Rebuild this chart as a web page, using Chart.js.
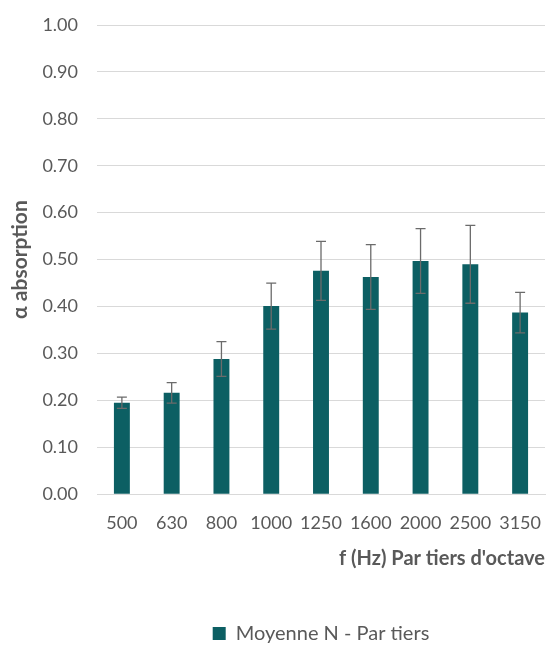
<!DOCTYPE html>
<html lang="fr">
<head>
    <meta charset="UTF-8">
    <title>Absorption - Par tiers d'octave</title>
    <script src="https://cdn.jsdelivr.net/npm/chart.js"></script>
    <style>
        html, body {
            margin: 0;
            padding: 0;
            background: #ffffff;
        }
        #wrap {
            width: 548px;
            height: 645px;
        }
    </style>
</head>
<body>
    <div id="wrap"><canvas id="absChart"></canvas></div>

    <script>
        // Bandes de tiers d'octave (Hz)
        const frequencies = ['500', '630', '800', '1000', '1250', '1600', '2000', '2500', '3150'];
        // Moyenne N - coefficient d'absorption
        const moyenne = [0.195, 0.216, 0.288, 0.401, 0.476, 0.463, 0.497, 0.490, 0.387];
        // Ecart (barres d'erreur +/-)
        const ecart = [0.012, 0.022, 0.037, 0.049, 0.063, 0.069, 0.069, 0.083, 0.043];

        const tealColor = '#0c5f63';
        const greyText = '#595959';

        // barres d'erreur dessinees avec l'echelle y du graphique
        const errorBars = {
            id: 'errorBars',
            afterDatasetsDraw(chart) {
                const meta = chart.getDatasetMeta(0);
                const yScale = chart.scales.y;
                const c = chart.ctx;
                c.save();
                c.strokeStyle = '#6b6b6b';
                c.lineWidth = 1.3;
                meta.data.forEach((bar, i) => {
                    const yTop = yScale.getPixelForValue(moyenne[i] + ecart[i]);
                    const yBot = yScale.getPixelForValue(moyenne[i] - ecart[i]);
                    c.beginPath();
                    c.moveTo(bar.x, yTop);
                    c.lineTo(bar.x, yBot);
                    c.moveTo(bar.x - 5, yTop);
                    c.lineTo(bar.x + 5, yTop);
                    c.moveTo(bar.x - 5, yBot);
                    c.lineTo(bar.x + 5, yBot);
                    c.stroke();
                });
                c.restore();
            }
        };

        const ctx = document.getElementById('absChart').getContext('2d');
        new Chart(ctx, {
            type: 'bar',
            data: {
                labels: frequencies,
                datasets: [{
                    label: 'Moyenne N - Par tiers',
                    data: moyenne,
                    backgroundColor: tealColor,
                    borderWidth: 0,
                    categoryPercentage: 1,
                    barPercentage: 0.32
                }]
            },
            options: {
                responsive: true,
                maintainAspectRatio: false,
                animation: false,
                layout: {
                    padding: { top: 0, right: 3, left: 0, bottom: -8.5 }
                },
                scales: {
                    y: {
                        min: 0,
                        max: 1,
                        ticks: {
                            stepSize: 0.1,
                            padding: 19,
                            color: greyText,
                            font: { family: 'Lato', size: 18 },
                            callback: v => v.toFixed(2)
                        },
                        grid: { color: '#d9d9d9', drawTicks: false },
                        border: { display: false },
                        title: {
                            display: true,
                            text: 'α absorption',
                            color: greyText,
                            font: { family: 'Lato', size: 21, weight: 'bold' },
                            padding: { top: 8, bottom: 0 }
                        },
                        afterFit(scale) {
                            scale.width = 97;
                            scale.paddingTop = 25;
                            scale.paddingBottom = 0;
                        }
                    },
                    x: {
                        ticks: {
                            padding: 18,
                            color: greyText,
                            font: { family: 'Lato', size: 18 },
                            maxRotation: 0,
                            autoSkip: false
                        },
                        grid: { display: false, drawTicks: false },
                        border: { color: '#d9d9d9' },
                        title: {
                            display: true,
                            text: "f (Hz) Par tiers d'octave",
                            align: 'end',
                            color: greyText,
                            font: { family: 'Lato', size: 20, weight: 'bold' },
                            padding: { top: -5.3, bottom: 47 }
                        },
                        afterFit(scale) {
                            scale.paddingLeft = 0;
                            scale.paddingRight = 0;
                        }
                    }
                },
                plugins: {
                    legend: {
                        position: 'bottom',
                        fullSize: false,
                        labels: {
                            boxWidth: 13,
                            boxHeight: 13,
                            padding: 6,
                            color: greyText,
                            font: { family: 'Lato', size: 20 }
                        }
                    },
                    tooltip: { enabled: false }
                }
            },
            plugins: [errorBars]
        });
    </script>
</body>
</html>
